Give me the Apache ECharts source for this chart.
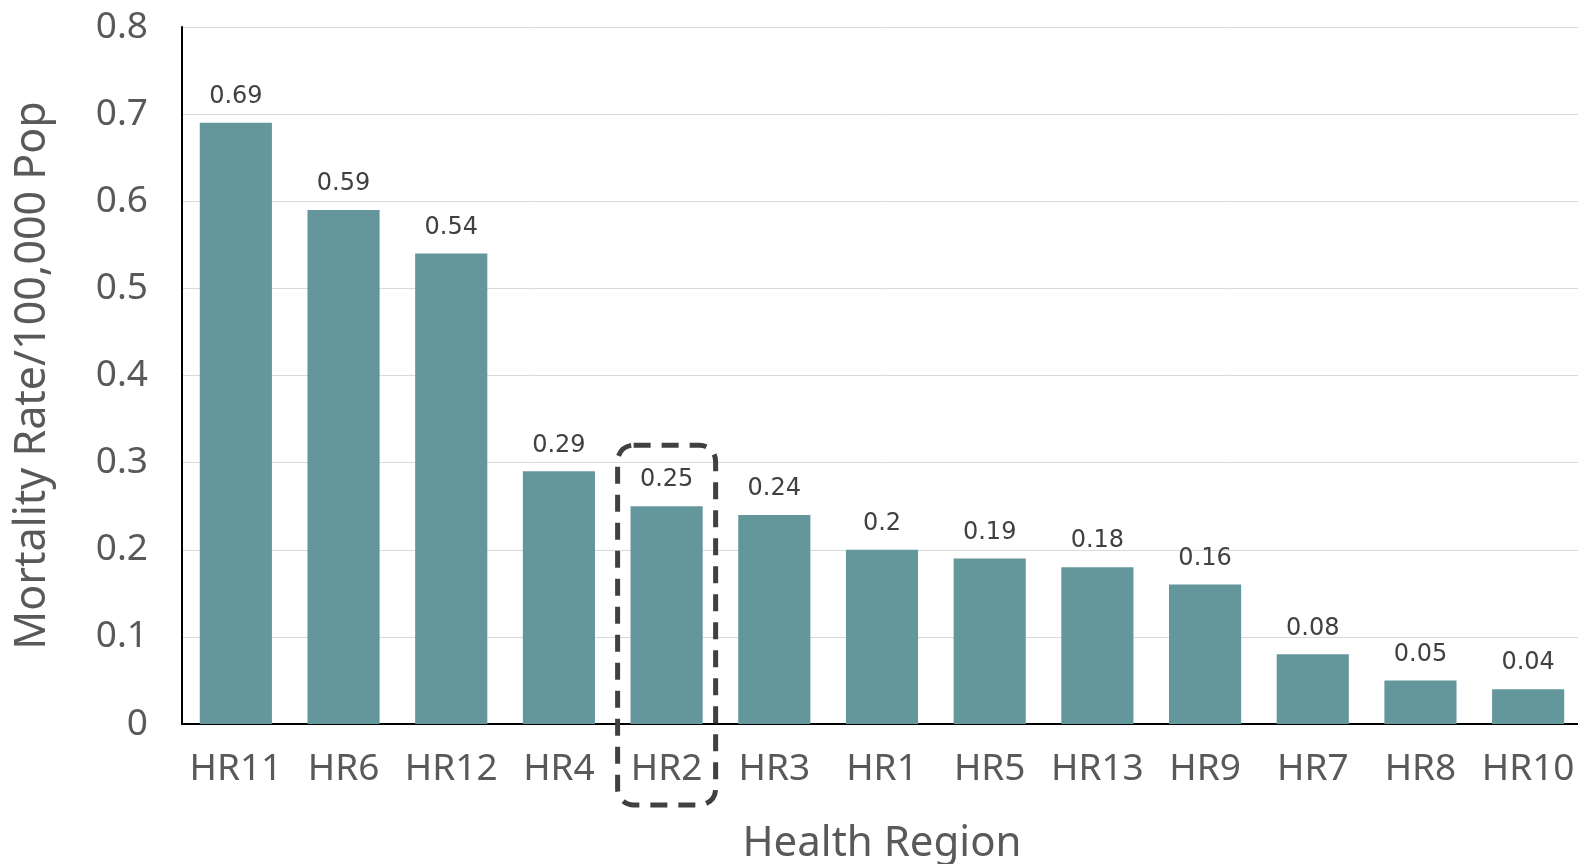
<!DOCTYPE html>
<html>
<head>
<meta charset="utf-8">
<script src="https://cdn.jsdelivr.net/npm/echarts@6/dist/echarts.min.js"></script>
<style>
  html, body { margin: 0; padding: 0; background: #ffffff; }
  #chart { width: 1578px; height: 864px; }
</style>
</head>
<body>
<div id="chart"></div>
<script>
// Mortality rate per 100,000 population by health region
const regions = ['HR11', 'HR6', 'HR12', 'HR4', 'HR2', 'HR3', 'HR1', 'HR5', 'HR13', 'HR9', 'HR7', 'HR8', 'HR10'];
const rates = [0.69, 0.59, 0.54, 0.29, 0.25, 0.24, 0.2, 0.19, 0.18, 0.16, 0.08, 0.05, 0.04];
const highlighted = 'HR2';

const textGray = '#595959';
const chart = echarts.init(document.getElementById('chart'), null, { renderer: 'canvas' });

chart.setOption({
  animation: false,
  backgroundColor: '#ffffff',
  grid: { left: 182, right: -4, top: 27, bottom: 140, outerBoundsMode: 'none', containLabel: false },
  xAxis: {
    type: 'category',
    data: regions,
    name: 'Health Region',
    nameLocation: 'middle',
    nameGap: 99,
    nameTextStyle: { fontFamily: 'Noto Sans', fontSize: 42, color: textGray },
    axisLine: { lineStyle: { color: '#000000', width: 2 } },
    axisTick: { show: false },
    axisLabel: { interval: 0, fontFamily: 'Noto Sans', fontSize: 37, color: textGray, margin: 27 }
  },
  yAxis: {
    type: 'value',
    min: 0,
    max: 0.8,
    interval: 0.1,
    name: 'Mortality Rate/100,000 Pop',
    nameLocation: 'middle',
    nameGap: 128,
    nameTextStyle: { fontFamily: 'Noto Sans', fontSize: 43, color: textGray },
    axisLine: { show: true, lineStyle: { color: '#000000', width: 2 } },
    axisTick: { show: false },
    splitLine: { lineStyle: { color: '#d9d9d9', width: 1 } },
    axisLabel: { fontFamily: 'Noto Sans', fontSize: 37, color: textGray, margin: 34 }
  },
  series: [{
    type: 'bar',
    data: rates,
    barCategoryGap: '33%',
    itemStyle: { color: '#64979c' },
    label: {
      show: true,
      position: 'top',
      distance: 14,
      fontFamily: 'DejaVu Sans',
      fontSize: 24,
      color: '#404040'
    }
  }]
});

// Dashed rounded frame around the highlighted region's bar and tick label
function drawHighlight() {
  const cx = chart.convertToPixel({ xAxisIndex: 0 }, highlighted);
  const yTop = chart.convertToPixel({ yAxisIndex: 0 }, 0.32);
  const yZero = chart.convertToPixel({ yAxisIndex: 0 }, 0);
  const halfW = 49;
  chart.setOption({
    graphic: [{
      type: 'rect',
      shape: { x: cx - halfW, y: yTop, width: halfW * 2, height: yZero + 81 - yTop, r: 16 },
      style: { fill: 'none', stroke: '#404040', lineWidth: 5, lineDash: [17, 11] },
      z: 100
    }]
  });
}
drawHighlight();
</script>
</body>
</html>
